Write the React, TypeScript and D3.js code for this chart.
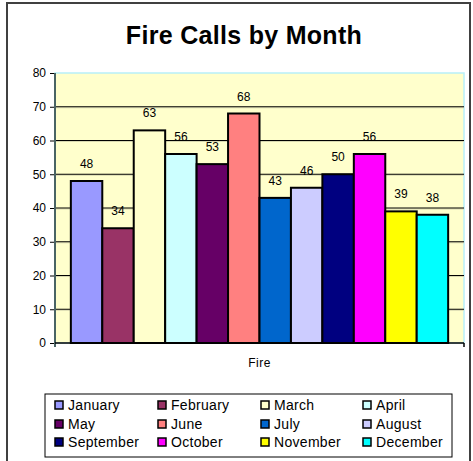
import React, { useEffect, useRef } from "react";
import * as d3 from "d3";

const months = [
  "January", "February", "March", "April", "May", "June",
  "July", "August", "September", "October", "November", "December",
];
const calls = [48, 34, 63, 56, 53, 68, 43, 46, 50, 56, 39, 38];
const monthColors = [
  "#9999FF", "#993366", "#FFFFCC", "#CCFFFF", "#660066", "#FF8080",
  "#0066CC", "#CCCCFF", "#000080", "#FF00FF", "#FFFF00", "#00FFFF",
];
const categories = ["Fire"];
const yTicks = [0, 10, 20, 30, 40, 50, 60, 70, 80];

const FONT = "'Liberation Sans', Arial, sans-serif";

const App = () => {
  const ref = useRef<SVGSVGElement>(null);

  useEffect(() => {
    const svg = d3.select(ref.current);
    svg.selectAll("*").remove();

    const plot = { left: 55, right: 464, top: 73, bottom: 343 };

    // outer chart border
    svg
      .append("rect")
      .attr("x", 7)
      .attr("y", 3)
      .attr("width", 463)
      .attr("height", 470)
      .attr("fill", "#fff")
      .attr("stroke", "#404040")
      .attr("stroke-width", 2);

    svg
      .append("text")
      .attr("x", 244)
      .attr("y", 44)
      .attr("text-anchor", "middle")
      .attr("font-family", FONT)
      .attr("font-weight", "bold")
      .attr("font-size", 25)
      .attr("letter-spacing", 0.3)
      .text("Fire Calls by Month");

    const y = d3.scaleLinear().domain([0, 80]).range([plot.bottom, plot.top]);

    const x0 = d3
      .scaleBand()
      .domain(categories)
      .range([plot.left, plot.right])
      .paddingOuter(0.042);
    const x1 = d3
      .scaleBand()
      .domain(months)
      .range([0, x0.bandwidth()]);

    // plot area
    svg
      .append("rect")
      .attr("x", plot.left)
      .attr("y", plot.top)
      .attr("width", plot.right - plot.left)
      .attr("height", plot.bottom - plot.top)
      .attr("fill", "#FFFFCC")
      .attr("stroke", "#B8F0F8")
      .attr("stroke-width", 1.5);

    // gridlines
    const grid = svg.append("g");
    yTicks
      .filter((t) => t > 0 && t < 80)
      .forEach((t) => {
        grid
          .append("line")
          .attr("x1", plot.left)
          .attr("x2", plot.right)
          .attr("y1", y(t) + 1)
          .attr("y2", y(t) + 1)
          .attr("stroke", "#d8d8b0")
          .attr("stroke-width", 1);
        grid
          .append("line")
          .attr("x1", plot.left)
          .attr("x2", plot.right)
          .attr("y1", y(t))
          .attr("y2", y(t))
          .attr("stroke", "#000")
          .attr("stroke-width", 1);
      });

    // bars
    const g = svg.append("g").attr("transform", `translate(${x0("Fire")},0)`);
    g.selectAll("rect")
      .data(calls)
      .join("rect")
      .attr("x", (_, i) => x1(months[i])!)
      .attr("y", (d) => y(d))
      .attr("width", x1.bandwidth())
      .attr("height", (d) => y(0) - y(d))
      .attr("fill", (_, i) => monthColors[i])
      .attr("stroke", "#000")
      .attr("stroke-width", 2);

    g.selectAll("text.val")
      .data(calls)
      .join("text")
      .attr("class", "val")
      .attr("x", (_, i) => x1(months[i])! + x1.bandwidth() / 2)
      .attr("y", (d) => y(d) - 13)
      .attr("text-anchor", "middle")
      .attr("font-family", FONT)
      .attr("font-size", 12)
      .attr("fill", "#000")
      .text((d) => d);

    // y axis
    const yAxis = svg
      .append("g")
      .attr("transform", `translate(${plot.left},0)`)
      .call(d3.axisLeft(y).tickValues(yTicks).tickSize(5).tickSizeOuter(0));
    yAxis.select(".domain").remove();
    yAxis
      .append("line")
      .attr("x1", 0)
      .attr("x2", 0)
      .attr("y1", plot.top)
      .attr("y2", plot.bottom + 4)
      .attr("stroke", "#4a6464")
      .attr("stroke-width", 2);
    yAxis.selectAll(".tick line").attr("stroke", "#000").attr("stroke-width", 1);
    yAxis
      .selectAll(".tick text")
      .attr("font-family", FONT)
      .attr("font-size", 12)
      .attr("fill", "#000")
      .attr("x", -9);

    // x axis
    svg
      .append("line")
      .attr("x1", plot.left)
      .attr("x2", plot.right)
      .attr("y1", plot.bottom)
      .attr("y2", plot.bottom)
      .attr("stroke", "#000")
      .attr("stroke-width", 1.5);
    svg
      .append("line")
      .attr("x1", plot.right)
      .attr("x2", plot.right)
      .attr("y1", plot.bottom)
      .attr("y2", plot.bottom + 4)
      .attr("stroke", "#000")
      .attr("stroke-width", 1.5);
    svg
      .append("text")
      .attr("x", x0("Fire")! + x0.bandwidth() / 2)
      .attr("y", 367)
      .attr("text-anchor", "middle")
      .attr("font-family", FONT)
      .attr("font-size", 12)
      .attr("letter-spacing", 0.5)
      .text("Fire");

    // legend
    const legend = svg.append("g");
    legend
      .append("rect")
      .attr("x", 45)
      .attr("y", 394)
      .attr("width", 407)
      .attr("height", 63)
      .attr("fill", "#fff")
      .attr("stroke", "#000")
      .attr("stroke-width", 1);
    const colX = [55, 158, 261, 363];
    const rowY = [405, 424, 442];
    months.forEach((m, i) => {
      const cx = colX[i % 4];
      const cy = rowY[Math.floor(i / 4)];
      legend
        .append("rect")
        .attr("x", cx)
        .attr("y", cy - 4)
        .attr("width", 8)
        .attr("height", 8)
        .attr("fill", monthColors[i])
        .attr("stroke", "#000")
        .attr("stroke-width", 1.5);
      legend
        .append("text")
        .attr("x", cx + 13)
        .attr("y", cy + 5)
        .attr("font-family", FONT)
        .attr("font-size", 14)
        .attr("letter-spacing", 0.3)
        .text(m);
    });
  }, []);

  return (
    <svg
      ref={ref}
      width={473}
      height={461}
      style={{ position: "absolute", left: 0, top: 0 }}
    />
  );
};

export default App;
